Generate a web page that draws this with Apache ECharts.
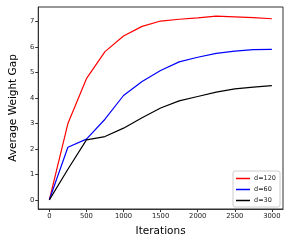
<!DOCTYPE html>
<html><head><meta charset="utf-8">
<script src="https://cdn.jsdelivr.net/npm/echarts@6/dist/echarts.min.js"></script>
<style>html,body{margin:0;padding:0;background:#fff}#c{width:291px;height:242px}</style>
</head><body><div id="c"></div>
<script>
const iterations = [0,250,500,750,1000,1250,1500,1750,2000,2250,2500,2750,3000];
const d120 = [0,2.99,4.75,5.81,6.42,6.80,7.01,7.08,7.13,7.20,7.17,7.14,7.10];
const d60  = [0,2.06,2.38,3.16,4.09,4.64,5.07,5.41,5.59,5.74,5.83,5.89,5.90];
const d30  = [0,1.20,2.35,2.48,2.81,3.22,3.60,3.88,4.05,4.22,4.35,4.42,4.48];
const xTicks = [0,500,1000,1500,2000,2500,3000];
const yTicks = [0,1,2,3,4,5,6,7];
const seriesNames = ['d=120','d=60','d=30'];
const seriesData = [d120,d60,d30];
const colors = ['#ff0000','#0000ff','#000000'];

const chart = echarts.init(document.getElementById('c'), null, {renderer:'canvas'});
const font = 'DejaVu Sans';
chart.setOption({
  animation:false,
  grid:{left:28,right:8,top:7,bottom:31,show:true,borderColor:'#333',borderWidth:1,backgroundColor:'transparent'},
  xAxis:{type:'value',min:-150,max:3150,
    name:'Iterations',nameLocation:'middle',nameGap:17,
    nameTextStyle:{fontFamily:font,fontSize:10.5,color:'#000'},
    axisLine:{show:true,onZero:false,lineStyle:{color:'#333',width:1}},
    axisTick:{show:true,customValues:xTicks,length:3,lineStyle:{color:'#333'}},
    axisLabel:{customValues:xTicks,formatter:v=>String(v),fontFamily:font,fontSize:6.8,color:'#222',margin:4},
    splitLine:{show:false}},
  yAxis:{type:'value',min:-0.36,max:7.56,
    name:'Average Weight Gap',nameLocation:'middle',nameGap:14,
    nameTextStyle:{fontFamily:font,fontSize:10.5,color:'#000'},
    axisLine:{show:true,onZero:false,lineStyle:{color:'#333',width:1}},
    axisTick:{show:true,customValues:yTicks,length:3,lineStyle:{color:'#333'}},
    axisLabel:{customValues:yTicks,formatter:v=>String(v),fontFamily:font,fontSize:6.8,color:'#222',margin:4},
    splitLine:{show:false}},
  legend:{orient:'vertical',right:11,bottom:35,
    data:seriesNames,icon:'rect',itemWidth:14,itemHeight:1.5,itemGap:4,
    borderColor:'#ccc',borderWidth:1,borderRadius:2,padding:[4,4,3,3],
    backgroundColor:'#fff',
    textStyle:{fontFamily:font,fontSize:6.5,color:'#222',padding:[0,0,0,-1]}},
  series: seriesNames.map((n,i)=>({
    name:n,type:'line',
    data:iterations.map((x,j)=>[x,seriesData[i][j]]),
    showSymbol:false,symbol:'none',
    lineStyle:{color:colors[i],width:1.2},
    itemStyle:{color:colors[i]}
  }))
});
</script></body></html>
